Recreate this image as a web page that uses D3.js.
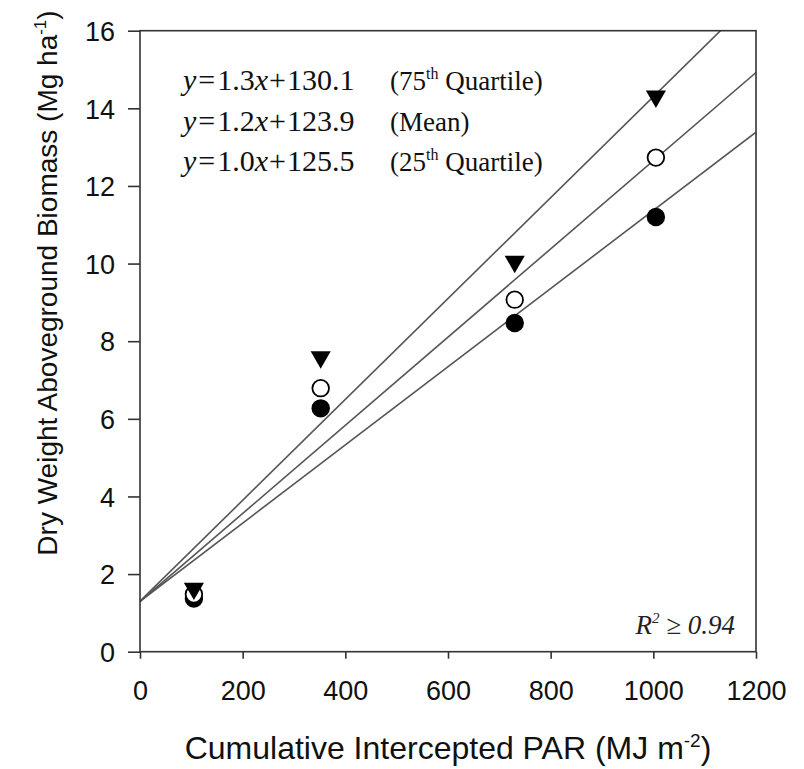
<!DOCTYPE html>
<html><head><meta charset="utf-8">
<script src="https://cdn.jsdelivr.net/npm/d3@7"></script>
<style>body{margin:0;background:#fff}</style>
</head><body>
<svg id="c" width="804" height="769"></svg>
<script>
const parX = [105, 352, 730, 1005];
const q75 = [1.63, 7.59, 10.05, 14.31];
const meanV = [1.48, 6.79, 9.07, 12.73];
const q25 = [1.37, 6.27, 8.47, 11.20];
const lineSlopes = [0.0130, 0.01136, 0.01007];
const lineIntercepts = [1.30, 1.29, 1.30];
const xTicks = [0, 200, 400, 600, 800, 1000, 1200];
const yTicks = [0, 2, 4, 6, 8, 10, 12, 14, 16];
const eqSlopes = ["1.3", "1.2", "1.0"];
const eqIntercepts = ["130.1", "123.9", "125.5"];
const eqNames = [["(75", "th", " Quartile)"], ["(Mean)", "", ""], ["(25", "th", " Quartile)"]];

const svg = d3.select("#c");
const L = 140, R = 756, T = 30.7, B = 651.7;
const x = d3.scaleLinear().domain([0, 1200]).range([L, R]);
const y = d3.scaleLinear().domain([0, 16]).range([B, T]);
const axisCol = "#333";
const sf = "Liberation Sans, Arial, sans-serif";
const ef = "Liberation Serif, Times New Roman, serif";

svg.append("clipPath").attr("id","clip").append("rect").attr("x",L).attr("y",T).attr("width",R-L).attr("height",B-T);

// regression lines
const lg = svg.append("g").attr("clip-path","url(#clip)");
lineSlopes.forEach((s,i)=>{
  lg.append("line").attr("x1",x(0)).attr("y1",y(lineIntercepts[i]))
    .attr("x2",x(1200)).attr("y2",y(lineIntercepts[i]+s*1200))
    .attr("stroke","#555").attr("stroke-width",1.6);
});

// axes
const xa = svg.append("g").attr("transform",`translate(0,${B})`)
  .call(d3.axisBottom(x).tickValues(xTicks).tickFormat(d3.format("d")).tickSize(7).tickPadding(6).tickSizeOuter(0));
const ya = svg.append("g").attr("transform",`translate(${L},0)`)
  .call(d3.axisLeft(y).tickValues(yTicks).tickFormat(d3.format("d")).tickSize(12).tickPadding(13).tickSizeOuter(0));
[xa, ya].forEach(a=>{
  a.select(".domain").remove();
  a.selectAll("line").attr("stroke",axisCol).attr("stroke-width",1.6);
  a.selectAll("text").attr("fill","#111").style("font-family",sf).style("font-size","27px");
});
xa.selectAll("text").attr("dy",null).attr("y",48);
ya.selectAll("text").attr("dy","0.36em");
svg.append("rect").attr("x",L).attr("y",T).attr("width",R-L).attr("height",B-T)
  .attr("fill","none").attr("stroke",axisCol).attr("stroke-width",1.6);

// points
const g = svg.append("g");
const tri = d3.symbol().type(d3.symbolTriangle).size(175);
parX.forEach((px,i)=>{
  g.append("circle").attr("cx",x(px)).attr("cy",y(q25[i])).attr("r",9.2).attr("fill","#000");
  g.append("circle").attr("cx",x(px)).attr("cy",y(meanV[i])).attr("r",8.3).attr("fill","#fff").attr("stroke","#000").attr("stroke-width",1.8);
  g.append("path").attr("d",tri).attr("transform",`translate(${x(px)},${y(q75[i])}) rotate(180)`).attr("fill","#000");
});

// equations
eqSlopes.forEach((s,i)=>{
  const yy = 90 + i*40.5;
  const t = svg.append("text").attr("x",183).attr("y",yy).style("font-family",ef).style("font-size","30px").attr("fill","#111");
  t.append("tspan").style("font-style","italic").text("y");
  t.append("tspan").attr("dx",2).text("=");
  t.append("tspan").attr("dx",2).text(s);
  t.append("tspan").style("font-style","italic").text("x");
  t.append("tspan").attr("dx",1).text("+");
  t.append("tspan").attr("dx",1).text(eqIntercepts[i]);
  const n = eqNames[i];
  const t2 = svg.append("text").attr("x",390).attr("y",yy).style("font-family",ef).style("font-size","27px").attr("fill","#111");
  t2.append("tspan").text(n[0]);
  if (n[1]) {
    t2.append("tspan").attr("dy",-11).style("font-size","16px").text(n[1]);
    t2.append("tspan").attr("dy",11).text(n[2]);
  }
});

// R2
const r2 = svg.append("text").attr("x",735).attr("y",634).attr("text-anchor","end")
  .style("font-family",ef).style("font-size","27px").style("font-style","italic").attr("fill","#222");
r2.append("tspan").text("R");
r2.append("tspan").attr("dy",-11).style("font-size","15px").text("2");
r2.append("tspan").attr("dy",11).text(" \u2265 0.94");

// axis titles
const xt = svg.append("text").attr("x",(L+R)/2).attr("y",759).attr("text-anchor","middle")
  .style("font-family",sf).style("font-size","32px").attr("fill","#111");
xt.append("tspan").text("Cumulative Intercepted PAR (MJ m");
xt.append("tspan").attr("dy",-12).style("font-size","19px").text("-2");
xt.append("tspan").attr("dy",12).text(")");

const yt = svg.append("text").attr("transform",`translate(57,283) rotate(-90)`).attr("text-anchor","middle")
  .style("font-family",sf).style("font-size","28px").attr("fill","#111");
yt.append("tspan").text("Dry Weight Aboveground Biomass (Mg ha");
yt.append("tspan").attr("dy",-11).style("font-size","17px").text("-1");
yt.append("tspan").attr("dy",11).text(")");
</script>
</body></html>
